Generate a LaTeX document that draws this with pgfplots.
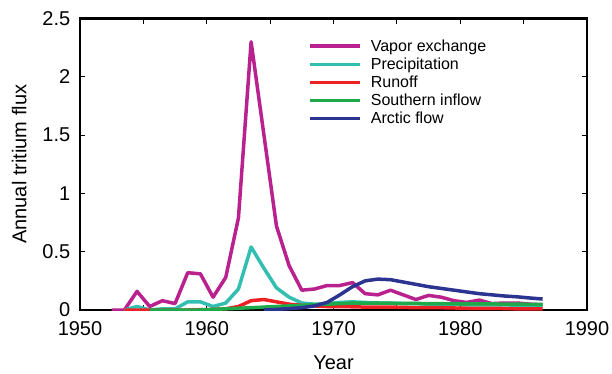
\documentclass[border=0pt]{standalone}
\usepackage{fontspec}
\setmainfont{Liberation Sans}
\usepackage{pgfplots}
\pgfplotsset{compat=1.18}
\definecolor{vapor}{RGB}{185,33,143}
\definecolor{precip}{RGB}{52,190,178}
\definecolor{runoff}{RGB}{237,32,36}
\definecolor{south}{RGB}{30,170,75}
\definecolor{arctic}{RGB}{44,52,145}
\begin{document}
\begin{tikzpicture}
\begin{axis}[
  scale only axis, width=507pt, height=291.5pt,
  xmin=1950, xmax=1990, ymin=0, ymax=2.5,
  xtick={1950,1955,...,1990}, xticklabels={1950,,1960,,1970,,1980,,1990},
  ytick={0,0.5,1,1.5,2,2.5}, yticklabels={0,0.5,1,1.5,2,2.5},
  tick align=inside, major tick length=5pt,
  tick style={black, line width=1.2pt},
  axis line style={line width=2.5pt},
  ticklabel style={font=\fontsize{20}{24}\selectfont, inner sep=1pt},
  xticklabel style={yshift=-10pt},
  yticklabel style={xshift=-8.5pt},
  xlabel={Year}, ylabel={Annual tritium flux},
  label style={font=\fontsize{20}{24}\selectfont},
  xlabel style={at={(axis description cs:0.5,-0.182)}, anchor=center},
  ylabel style={at={(axis description cs:-0.12,0.5)}, anchor=center, rotate=0},
  legend style={draw=none, fill=none, at={(axis description cs:0.45,0.935)}, anchor=north west,
    font=\fontsize{16}{18}\selectfont, row sep=1pt, inner sep=0pt},
  legend cell align=left,
  legend image code/.code={\draw[#1, line width=3.5pt] (0pt,0pt) -- (50pt,0pt); \path (57pt,0pt);},
  every axis plot/.append style={line width=3.5pt, line join=round, no markers},
]
\addplot[vapor] coordinates {(1952.5,0) (1953.5,0) (1954.5,0.16) (1955.5,0.03) (1956.5,0.08) (1957.5,0.055) (1958.5,0.32) (1959.5,0.31) (1960.5,0.11) (1961.5,0.28) (1962.5,0.79) (1963.5,2.30) (1964.5,1.51) (1965.5,0.72) (1966.5,0.38) (1967.5,0.17) (1968.5,0.18) (1969.5,0.21) (1970.5,0.21) (1971.5,0.235) (1972.5,0.14) (1973.5,0.13) (1974.5,0.17) (1975.5,0.13) (1976.5,0.09) (1977.5,0.125) (1978.5,0.11) (1979.5,0.08) (1980.5,0.065) (1981.5,0.085) (1982.5,0.055) (1983.5,0.06) (1984.5,0.06) (1985.5,0.05) (1986.5,0.045)};
\addlegendentry{Vapor exchange}
\addplot[precip] coordinates {(1953.5,0) (1954.5,0.03) (1955.5,0) (1956.5,0.01) (1957.5,0.01) (1958.5,0.07) (1959.5,0.07) (1960.5,0.03) (1961.5,0.06) (1962.5,0.18) (1963.5,0.54) (1964.5,0.36) (1965.5,0.19) (1966.5,0.11) (1967.5,0.06) (1968.5,0.05) (1969.5,0.055) (1970.5,0.065) (1971.5,0.07) (1972.5,0.065) (1973.5,0.06) (1974.5,0.06) (1975.5,0.055) (1976.5,0.055) (1977.5,0.05) (1978.5,0.05) (1979.5,0.05) (1980.5,0.045) (1981.5,0.045) (1982.5,0.045) (1983.5,0.045) (1984.5,0.04) (1985.5,0.04) (1986.5,0.04)};
\addlegendentry{Precipitation}
\addplot[runoff] coordinates {(1953.5,0) (1958.5,0) (1960.5,0.005) (1961.5,0.01) (1962.5,0.03) (1963.5,0.08) (1964.5,0.09) (1965.5,0.07) (1966.5,0.05) (1967.5,0.04) (1968.5,0.035) (1969.5,0.03) (1970.5,0.03) (1972.5,0.025) (1974.5,0.025) (1976.5,0.02) (1978.5,0.02) (1980.5,0.015) (1982.5,0.015) (1984.5,0.01) (1986.5,0.01)};
\addlegendentry{Runoff}
\addplot[south] coordinates {(1955.5,0) (1959.5,0) (1960.5,0.005) (1961.5,0.01) (1962.5,0.015) (1963.5,0.02) (1964.5,0.025) (1965.5,0.03) (1966.5,0.035) (1967.5,0.04) (1968.5,0.045) (1969.5,0.05) (1970.5,0.055) (1971.5,0.06) (1972.5,0.06) (1974.5,0.058) (1976.5,0.056) (1978.5,0.055) (1980.5,0.053) (1982.5,0.052) (1984.5,0.05) (1986.5,0.048)};
\addlegendentry{Southern inflow}
\addplot[arctic] coordinates {(1964.5,0) (1965.5,0.005) (1966.5,0.012) (1967.5,0.02) (1968.5,0.035) (1969.5,0.065) (1970.5,0.13) (1971.5,0.2) (1972.5,0.25) (1973.5,0.265) (1974.5,0.26) (1975.5,0.24) (1976.5,0.22) (1977.5,0.2) (1978.5,0.185) (1979.5,0.17) (1980.5,0.155) (1981.5,0.14) (1982.5,0.13) (1983.5,0.12) (1984.5,0.113) (1985.5,0.103) (1986.5,0.094)};
\addlegendentry{Arctic flow}
\end{axis}
\pgfresetboundingbox
\path (-80pt,-63pt) rectangle (532pt,310pt);
\end{tikzpicture}
\end{document}
